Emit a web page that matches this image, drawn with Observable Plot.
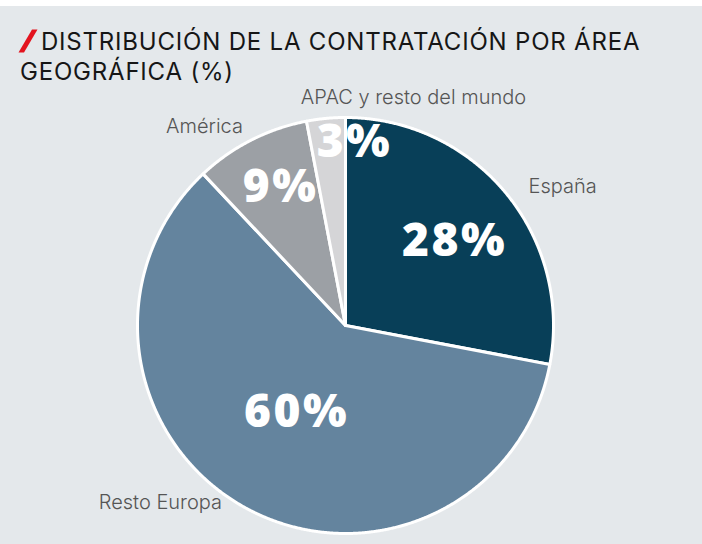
<!DOCTYPE html>
<html>
<head>
<meta charset="utf-8">
<script src="https://cdn.jsdelivr.net/npm/d3@7"></script>
<script src="https://cdn.jsdelivr.net/npm/@observablehq/plot@0.6"></script>
<style>
html, body { margin: 0; padding: 0; background: #ffffff; }
#wrap { position: relative; width: 702px; height: 544px; overflow: hidden; background: #ffffff; }
#bg { position: absolute; left: 0; top: 6px; width: 702px; height: 538px; background: #e4e8eb; }
#chart { position: absolute; left: 0; top: 0; }
#title { position: absolute; left: 20px; top: 27px; font-family: Inter, Roboto, sans-serif; font-size: 24px; line-height: 30px; letter-spacing: 0.8px; color: #161616; white-space: nowrap; }
#title .first { padding-left: 21px; }
#slash { position: absolute; left: -2px; top: 2px; }
</style>
</head>
<body>
<div id="wrap">
  <div id="bg"></div>
  <div id="chart"></div>
  <div id="title">
    <svg id="slash" width="20" height="24" viewBox="0 0 20 24"><polygon points="14,0.5 19.5,0.5 6,23.5 0.5,23.5" fill="#e3141f"/></svg>
    <span class="first">DISTRIBUCIÓN DE LA CONTRATACIÓN POR ÁREA</span><br>
    <span>GEOGRÁFICA (%)</span>
  </div>
</div>
<script>
// ---- data ----
const categories = ["España", "Resto Europa", "América", "APAC y resto del mundo"];
const values = [28, 60, 9, 3];
const valueLabels = ["28%", "60%", "9%", "3%"];
const colors = ["#083f58", "#64849e", "#9ca0a5", "#d5d5d7"];

// ---- layout (label placement relative to pie, radius units) ----
const pctRadius = [0.662, 0.48, 0.733, 0.881];
const pctAngleShift = [2, 0.6, 1.8, 8.2];
const catRadius = [1.239, 1.231, 1.173, 1.144];
const catAngle = [57.4, 226.3, 324.7, 16.6];

const W = 702, H = 544, CX = 345, CY = 325, R = 208;

// slices from data
const total = d3.sum(values);
let acc = 0;
const slices = categories.map((c, i) => {
  const a0 = acc / total * 360;
  acc += values[i];
  const a1 = acc / total * 360;
  return {category: c, value: values[i], label: valueLabels[i], a0, a1, mid: (a0 + a1) / 2, i};
});

const rad = a => a * Math.PI / 180;
const pts = [];
for (const s of slices) {
  pts.push({category: s.category, u: 0, v: 0});
  const n = Math.max(2, Math.ceil((s.a1 - s.a0) / 0.25));
  for (let k = 0; k <= n; k++) {
    const a = s.a0 + (s.a1 - s.a0) * k / n;
    pts.push({category: s.category, u: Math.sin(rad(a)), v: Math.cos(rad(a))});
  }
  pts.push({category: s.category, u: 0, v: 0});
}

const pctLabels = slices.map(s => {
  const a = s.mid + pctAngleShift[s.i];
  return {text: s.label, u: pctRadius[s.i] * Math.sin(rad(a)), v: pctRadius[s.i] * Math.cos(rad(a))};
});
const catLabels = slices.map(s => ({
  text: s.category,
  u: catRadius[s.i] * Math.sin(rad(catAngle[s.i])),
  v: catRadius[s.i] * Math.cos(rad(catAngle[s.i]))
}));

const chart = Plot.plot({
  width: W,
  height: H,
  margin: 0,
  style: {background: "transparent", overflow: "visible"},
  x: {domain: [-CX / R, (W - CX) / R], axis: null},
  y: {domain: [-(H - CY) / R, CY / R], axis: null},
  color: {domain: categories, range: colors},
  marks: [
    Plot.line(pts, {x: "u", y: "v", z: "category", fill: "category", stroke: "#ffffff", strokeWidth: 3, strokeLinejoin: "round", curve: "linear"}),
    Plot.text(pctLabels, {x: "u", y: "v", text: "text", fill: "#ffffff", fontSize: 46, fontWeight: 800, fontFamily: "'Open Sans', sans-serif", lineAnchor: "middle", textAnchor: "middle", className: "pct"}),
    Plot.text(catLabels, {x: "u", y: "v", text: "text", fill: "#555555", fontSize: 20, fontWeight: 300, fontFamily: "Inter, Roboto, sans-serif", lineAnchor: "middle", textAnchor: "middle"})
  ]
});
d3.select(chart).selectAll(".pct text").style("letter-spacing", "2.5px");
document.getElementById("chart").appendChild(chart);
</script>
</body>
</html>
